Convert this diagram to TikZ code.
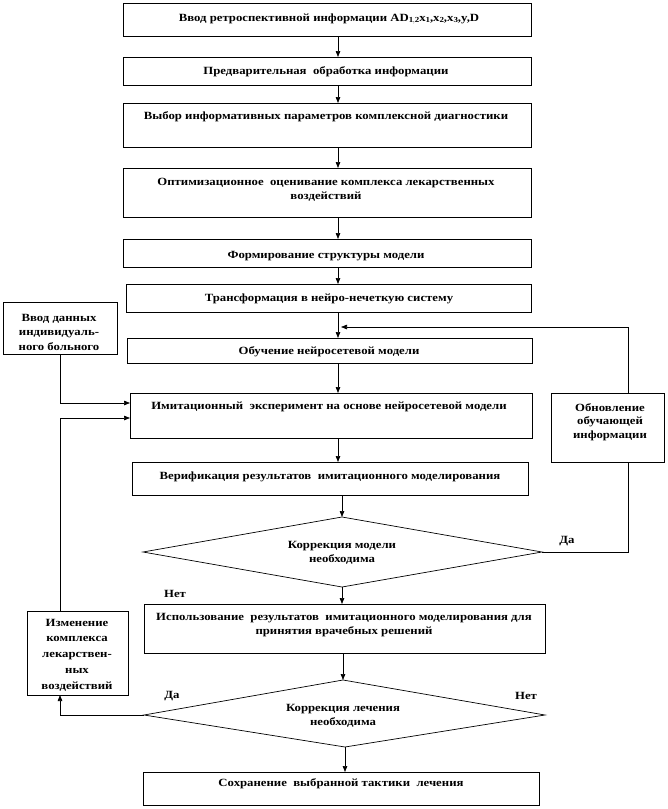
\documentclass[tikz,border=0pt]{standalone}
\usepackage{fontspec}
\setmainfont{Liberation Serif}[FakeStretch=1.16]
\usetikzlibrary{arrows.meta}
\begin{document}
\begin{tikzpicture}[x=1pt,y=-1pt,
  box/.style={draw=black,line width=0.7pt,inner sep=0pt,outer sep=0pt},
  lbl/.style={font=\bfseries\fontsize{11}{13.5}\selectfont,align=center,inner sep=0pt},
  ln/.style={line width=0.7pt},
  arr/.style={line width=0.7pt,-{Triangle[length=6pt,width=4.5pt]}},
  dia/.style={draw=black,line width=0.7pt}]
\useasboundingbox (0,0) rectangle (668,809);
% boxes
\newcommand{\bx}[5]{\node[box,minimum width={#4-#2},minimum height={#5-#3}] (#1) at ({(#2+#4)/2},{(#3+#5)/2}) {};}
\bx{b1}{123}{3}{531}{36}
\bx{b2}{123}{57}{531}{85}
\bx{b3}{123}{103}{531}{147}
\bx{b4}{123}{168}{531}{217}
\bx{b5}{123}{239}{531}{267}
\bx{b6}{126}{284}{531}{312}
\bx{b7}{127}{338}{532}{363}
\bx{b8}{130}{393}{532}{438}
\bx{b9}{132}{462}{528}{495}
\bx{b10}{144}{604}{545}{653}
\bx{b11}{143}{772}{539}{805}
\bx{l1}{3}{302}{117}{354}
\bx{l2}{27}{611}{128}{695}
\bx{r1}{551}{393}{664}{462}
% diamonds
\coordinate (d1t) at (342,517); \coordinate (d1l) at (143,552);
\coordinate (d1r) at (542,552); \coordinate (d1b) at (342,587);
\draw[dia] (d1t) -- (d1r) -- (d1b) -- (d1l) -- cycle;
\coordinate (d2t) at (343,680); \coordinate (d2l) at (144,715);
\coordinate (d2r) at (545,715); \coordinate (d2b) at (345,747);
\draw[dia] (d2t) -- (d2r) -- (d2b) -- (d2l) -- cycle;
% texts
\node[lbl] (t1) at (329,19) {Ввод ретроспективной информации AD$_{\mathbf{1,2}}$x$_{\mathbf{1}}$,x$_{\mathbf{2}}$,x$_{\mathbf{3}}$,y,D};
\node[lbl] (t2) at (326,72) {Предварительная\ \ обработка информации};
\node[lbl] (t3) at (326,117) {Выбор информативных параметров комплексной диагностики};
\node[lbl] (t4) at (326,190) {Оптимизационное\ \ оценивание комплекса лекарственных\\воздействий};
\node[lbl] (t5) at (326,256) {Формирование структуры модели};
\node[lbl] (t6) at (329,299) {Трансформация в нейро-нечеткую систему};
\node[lbl] (t7) at (329,352) {Обучение нейросетевой модели};
\node[lbl] (t8) at (329,407) {Имитационный\ \ эксперимент на основе нейросетевой модели};
\node[lbl] (t9) at (330,477) {Верификация\ результатов\ \ имитационного моделирования};
\node[lbl] (td1) at (342,553) {Коррекция модели\\необходима};
\node[lbl] (t10) at (344,625) {Использование\ \ результатов\ \ имитационного моделирования для\\принятия врачебных решений};
\node[lbl] (td2) at (343,716) {Коррекция лечения\\необходима};
\node[lbl] (t11) at (341,784) {Сохранение\ \ выбранной тактики\ \ лечения};
\node[lbl,font=\bfseries\fontsize{11}{14.5}\selectfont] (tl1) at (59,332) {Ввод данных\\индивидуаль-\\ного больного};
\node[lbl,font=\bfseries\fontsize{11}{15.8}\selectfont] (tl2) at (77,655) {Изменение\\комплекса\\лекарствен-\\ных\\воздействий};
\node[lbl] (tr1) at (610,422) {Обновление\\обучающей\\информации};
\node[lbl] (yes1) at (567,541) {Да};
\node[lbl] (no1) at (175,594) {Нет};
\node[lbl] (yes2) at (172,696) {Да};
\node[lbl] (no2) at (526,696) {Нет};
% axis coordinates
\coordinate (ax) at (338,0);
\coordinate (ax2) at (342,0);
\coordinate (ax3) at (343,0);
\coordinate (ax4) at (345,0);
\coordinate (rx) at (628,0);
\coordinate (lx) at (60,0);
% main flow
\draw[arr] (b1.south -| ax) -- (b2.north -| ax);
\draw[arr] (b2.south -| ax) -- (b3.north -| ax);
\draw[arr] (b3.south -| ax) -- (b4.north -| ax);
\draw[arr] (b4.south -| ax) -- (b5.north -| ax);
\draw[arr] (b5.south -| ax) -- (b6.north -| ax);
\draw[arr] (b6.south -| ax) -- (b7.north -| ax);
\draw[arr] (b7.south -| ax) -- (b8.north -| ax);
\draw[arr] (b8.south -| ax) -- (b9.north -| ax);
\draw[arr] (b9.south -| ax2) -- (d1t);
\draw[arr] (d1b) -- (b10.north -| ax2);
\draw[arr] (b10.south -| ax3) -- (d2t);
\draw[arr] (d2b) -- (b11.north -| ax4);
% feedback right
\coordinate (fb) at (341,327);
\draw[ln] (d1r) -| (r1.south -| rx);
\draw[arr] (r1.north -| rx) |- (fb);
% left input
\coordinate (in1) at (130,403);
\draw[arr] (l1.south -| lx) |- (in1);
% left loop
\coordinate (in2) at (130,418);
\draw[arr] (d2l) -| (l2.south -| lx);
\draw[arr] (l2.north -| lx) |- (in2);
\end{tikzpicture}
\end{document}
